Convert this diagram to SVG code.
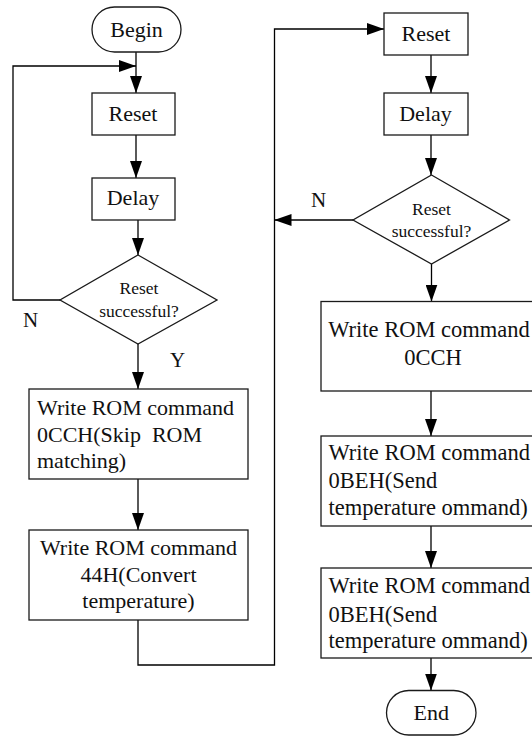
<svg xmlns="http://www.w3.org/2000/svg" width="532" height="736" viewBox="0 0 532 736">
<style>
.box{fill:#fff;stroke:#1a1a1a;stroke-width:1.3}
.ln{fill:none;stroke:#000;stroke-width:1.3}
text{font-family:"Liberation Serif","Times New Roman",serif;fill:#111}
.t{font-size:22px}
.tr{font-size:22.5px}
.c{text-anchor:middle}
.d{font-size:17.5px;text-anchor:middle}
.lab{font-size:21px}
</style>
<defs>
<marker id="ah" markerUnits="userSpaceOnUse" markerWidth="17" markerHeight="12" refX="17" refY="6" orient="auto" viewBox="0 0 17 12">
<path d="M0,0 L17,6 L0,12 Z" fill="#000"/>
</marker>
</defs>
<g id="connectors">
<line class="ln" x1="136" y1="52" x2="136" y2="93" marker-end="url(#ah)"/>
<polyline class="ln" points="60,300 13,300 13,66 136,66" marker-end="url(#ah)"/>
<line class="ln" x1="136" y1="135" x2="136" y2="178" marker-end="url(#ah)"/>
<line class="ln" x1="138" y1="220" x2="138" y2="255" marker-end="url(#ah)"/>
<line class="ln" x1="138" y1="344" x2="138" y2="389" marker-end="url(#ah)"/>
<line class="ln" x1="138" y1="479" x2="138" y2="530" marker-end="url(#ah)"/>
<polyline class="ln" points="138,620 138,665 274.5,665 274.5,29 384,29" marker-end="url(#ah)"/>
<line class="ln" x1="431" y1="55" x2="431" y2="93" marker-end="url(#ah)"/>
<line class="ln" x1="431" y1="135" x2="431" y2="175" marker-end="url(#ah)"/>
<line class="ln" x1="353" y1="220" x2="274.5" y2="220" marker-end="url(#ah)"/>
<line class="ln" x1="431.5" y1="264" x2="431.5" y2="301.5" marker-end="url(#ah)"/>
<line class="ln" x1="431" y1="391" x2="431" y2="436" marker-end="url(#ah)"/>
<line class="ln" x1="431" y1="526" x2="431" y2="568" marker-end="url(#ah)"/>
<line class="ln" x1="431" y1="658" x2="431" y2="690.5" marker-end="url(#ah)"/>
<text class="lab" x="23" y="327">N</text>
<text class="lab" x="170" y="367">Y</text>
<text class="lab" x="311" y="207">N</text>
</g>
<g id="begin">
<rect class="box" x="92" y="7" width="89" height="45" rx="22.5"/>
<text class="t c" x="136.5" y="36.7">Begin</text>
</g>
<g id="reset1">
<rect class="box" x="92" y="93" width="83" height="42"/>
<text class="t c" x="133" y="120.7">Reset</text>
</g>
<g id="delay1">
<rect class="box" x="92" y="178" width="83" height="42"/>
<text class="t c" x="133" y="205">Delay</text>
</g>
<g id="check1">
<polygon class="box" points="138,255 217,300 138,344 60,300"/>
<text class="d" x="139" y="293.5">Reset</text>
<text class="d" x="139" y="317">successful?</text>
</g>
<g id="skiprom">
<rect class="box" x="29" y="389" width="219" height="90"/>
<text class="t" x="37" y="415">Write ROM command</text>
<text class="t" x="37" y="441.7" xml:space="preserve">0CCH(Skip  ROM</text>
<text class="t" x="37" y="468.3">matching)</text>
</g>
<g id="convert">
<rect class="box" x="29" y="530" width="219" height="90"/>
<text class="t c" x="138.5" y="555">Write ROM command</text>
<text class="t c" x="138.5" y="581.7">44H(Convert</text>
<text class="t c" x="138.5" y="608">temperature)</text>
</g>
<g id="reset2">
<rect class="box" x="384" y="13" width="84" height="42"/>
<text class="t c" x="426" y="40.7">Reset</text>
</g>
<g id="delay2">
<rect class="box" x="384" y="93" width="84" height="42"/>
<text class="t c" x="425.5" y="120.7">Delay</text>
</g>
<g id="check2">
<polygon class="box" points="431.5,175 509.5,220 431.5,264 353,220"/>
<text class="d" x="431.5" y="215">Reset</text>
<text class="d" x="431.5" y="237">successful?</text>
</g>
<g id="cch">
<rect class="box" x="321" y="301.5" width="225" height="89.5"/>
<text class="tr c" x="429" y="336.7">Write ROM command</text>
<text class="tr c" x="433" y="365">0CCH</text>
</g>
<g id="beh1">
<rect class="box" x="321" y="436" width="225" height="90"/>
<text class="tr" x="328.5" y="460">Write ROM command</text>
<text class="tr" x="328.5" y="488.3">0BEH(Send</text>
<text class="tr" x="328.5" y="515">temperature ommand)</text>
</g>
<g id="beh2">
<rect class="box" x="321" y="568" width="225" height="90"/>
<text class="tr" x="328.5" y="593.3">Write ROM command</text>
<text class="tr" x="328.5" y="621.7">0BEH(Send</text>
<text class="tr" x="328.5" y="648.3">temperature ommand)</text>
</g>
<g id="end">
<rect class="box" x="386.5" y="690.5" width="89.5" height="44.5" rx="22.25"/>
<text class="t c" x="431.3" y="720">End</text>
</g>
</svg>
